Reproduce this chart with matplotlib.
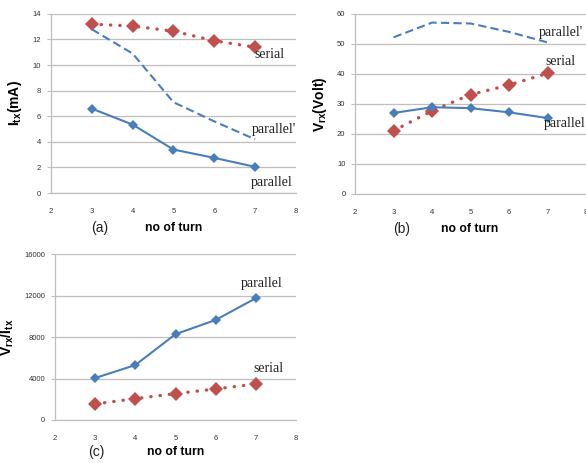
import matplotlib
matplotlib.use("Agg")
import matplotlib.pyplot as plt

plt.rcParams['mathtext.fontset'] = 'custom'
plt.rcParams['mathtext.bf'] = 'Liberation Sans:bold'
plt.rcParams['mathtext.rm'] = 'Liberation Sans'
plt.rcParams['font.family'] = ['Liberation Sans', 'DejaVu Sans']

turns = [3, 4, 5, 6, 7]

# (a) I_tx (mA)
itx_serial = [13.2, 13.05, 12.65, 11.9, 11.4]
itx_parallel_p = [12.8, 10.9, 7.1, 5.6, 4.2]
itx_parallel = [6.6, 5.35, 3.4, 2.75, 2.05]

# (b) V_rx (Volt)
vrx_parallel_p = [52.2, 57.1, 56.8, 54.0, 50.5]
vrx_serial = [21.1, 27.7, 33.1, 36.3, 40.2]
vrx_parallel = [27.0, 28.9, 28.6, 27.2, 25.3]

# (c) V_rx / I_tx
ratio_parallel = [4050, 5300, 8280, 9650, 11750]
ratio_serial = [1540, 2060, 2540, 2990, 3470]

BLUE = '#4A7EBB'
RED = '#C0504D'
GRID = '#BFBFBF'

fig = plt.figure(figsize=(5.86, 4.63), dpi=100)

def style(ax, ylim, yticks):
    ax.set_xlim(2, 8)
    ax.set_xticks(range(2, 9))
    ax.set_ylim(*ylim)
    ax.set_yticks(yticks)
    ax.grid(axis='y', color=GRID, linewidth=0.9)
    ax.set_axisbelow(True)
    for s in ['top', 'right']:
        ax.spines[s].set_visible(False)
    for s in ['left', 'bottom']:
        ax.spines[s].set_color(GRID)
        ax.spines[s].set_linewidth(0.9)
    ax.tick_params(axis='x', length=0, labelsize=5.5, pad=11, labelcolor='#333333')
    ax.tick_params(axis='y', length=3, color=GRID, labelsize=5.5, pad=4, labelcolor='#333333')

def serial_line(ax, y):
    ax.plot(turns, y, color=RED, linewidth=2.4, linestyle=(0, (0.1, 2.7)),
            dash_capstyle='round', marker='D', markersize=7.5, markeredgewidth=0,
            zorder=3)

def parallel_line(ax, y):
    ax.plot(turns, y, color=BLUE, linewidth=1.5, marker='D', markersize=5,
            markeredgewidth=0, zorder=3)

def parallel_p_line(ax, y):
    ax.plot(turns, y, color=BLUE, linewidth=1.5, linestyle=(0, (4, 2)), zorder=3)

def ann(ax, x, y, s):
    ax.text(x, y, s, fontsize=10, family='Liberation Serif', va='center',
            ha='left', color='#222222', zorder=4)

# (a)
axa = fig.add_axes([0.087, 0.583, 0.418, 0.387])
style(axa, (0, 14), range(0, 15, 2))
serial_line(axa, itx_serial)
parallel_p_line(axa, itx_parallel_p)
parallel_line(axa, itx_parallel)
ann(axa, 6.97, 10.85, 'serial')
ann(axa, 6.92, 4.93, "parallel'")
ann(axa, 6.9, 0.8, 'parallel')
axa.set_ylabel(r'$\mathbf{I_{tx}(mA)}$', fontsize=10, labelpad=6)

# (b)
axb = fig.add_axes([0.606, 0.581, 0.394, 0.389])
style(axb, (0, 60), range(0, 61, 10))
parallel_p_line(axb, vrx_parallel_p)
serial_line(axb, vrx_serial)
parallel_line(axb, vrx_parallel)
ann(axb, 6.78, 53.7, "parallel'")
ann(axb, 6.94, 44.0, 'serial')
ann(axb, 6.9, 23.6, 'parallel')
axb.set_ylabel(r'$\mathbf{V_{rx}(Volt)}$', fontsize=10, labelpad=6)

# (c)
axc = fig.add_axes([0.094, 0.093, 0.411, 0.358])
style(axc, (0, 16000), range(0, 16001, 4000))
parallel_line(axc, ratio_parallel)
serial_line(axc, ratio_serial)
ann(axc, 6.63, 13200, 'parallel')
ann(axc, 6.93, 5000, 'serial')
axc.set_ylabel(r'$\mathbf{V_{rx}/I_{tx}}$', fontsize=10, labelpad=6)

# bottom labels
def bottom(xp, yp, letter, xt):
    fig.text(xp / 586, 1 - yp / 463, letter, fontsize=10, ha='center', va='center',
             color='#222222')
    fig.text(xt / 586, 1 - yp / 463, 'no of turn', fontsize=8.8, fontweight='bold',
             ha='center', va='center')

bottom(100, 228, '(a)', 174)
bottom(402, 229, '(b)', 470)
bottom(96, 452, '(c)', 176)

fig.savefig('out.png', dpi=100)
